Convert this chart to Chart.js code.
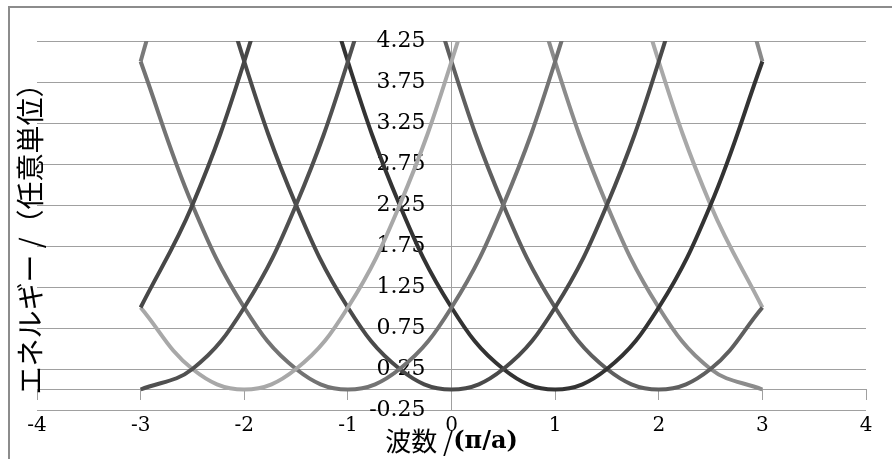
<!DOCTYPE html>
<html lang="ja">
<head>
<meta charset="UTF-8">
<title>自由電子のエネルギー</title>
<script src="https://cdn.jsdelivr.net/npm/chart.js"></script>
<style>
  body { margin: 0; background: #fff; overflow: hidden; }
  .wrap { position: relative; width: 892px; height: 459px; overflow: hidden; }
  .frame { position: absolute; left: 8px; top: 6px; width: 1000px; height: 1000px; border: 2px solid #8c8c8c; }
  canvas { position: absolute; left: 0; top: 0; }
</style>
</head>
<body>
<div class="wrap">
  <div class="frame"></div>
  <canvas id="bandChart" width="892" height="459"></canvas>
</div>
<script>
// 波数 (π/a)
const waveNumbers = [-3, -2.5, -2, -1.5, -1, -0.5, 0, 0.5, 1, 1.5, 2, 2.5, 3];

// エネルギー, one parabola per reciprocal lattice point (-5 ... 5)
const bandM5 = [4, 6.25, 9, 12.25, 16, 20.25, 25, 30.25, 36, 42.25, 49, 56.25, 64];
const bandM4 = [1, 2.25, 4, 6.25, 9, 12.25, 16, 20.25, 25, 30.25, 36, 42.25, 49];
const bandM3 = [0, 0.25, 1, 2.25, 4, 6.25, 9, 12.25, 16, 20.25, 25, 30.25, 36];
const bandM2 = [1, 0.25, 0, 0.25, 1, 2.25, 4, 6.25, 9, 12.25, 16, 20.25, 25];
const bandM1 = [4, 2.25, 1, 0.25, 0, 0.25, 1, 2.25, 4, 6.25, 9, 12.25, 16];
const band0  = [9, 6.25, 4, 2.25, 1, 0.25, 0, 0.25, 1, 2.25, 4, 6.25, 9];
const bandP1 = [16, 12.25, 9, 6.25, 4, 2.25, 1, 0.25, 0, 0.25, 1, 2.25, 4];
const bandP2 = [25, 20.25, 16, 12.25, 9, 6.25, 4, 2.25, 1, 0.25, 0, 0.25, 1];
const bandP3 = [36, 30.25, 25, 20.25, 16, 12.25, 9, 6.25, 4, 2.25, 1, 0.25, 0];
const bandP4 = [49, 42.25, 36, 30.25, 25, 20.25, 16, 12.25, 9, 6.25, 4, 2.25, 1];
const bandP5 = [64, 56.25, 49, 42.25, 36, 30.25, 25, 20.25, 16, 12.25, 9, 6.25, 4];

const yTicks = [-0.25, 0.25, 0.75, 1.25, 1.75, 2.25, 2.75, 3.25, 3.75, 4.25];
const yTitle = 'エネルギー /（任意単位）';
const xTitleMain = '波数 /';
const xTitleUnit = '(π/a)';

const bands = [bandM5, bandM4, bandM3, bandM2, bandM1, band0, bandP1, bandP2, bandP3, bandP4, bandP5];
const bandColors = ['#7a7a7a', '#474747', '#505050', '#a8a8a8', '#737373', '#4a4a4a',
                    '#333333', '#5f5f5f', '#8c8c8c', '#a8a8a8', '#8a8a8a'];

const gridGray = '#a0a0a0';
Chart.defaults.font.family = "'DejaVu Serif', 'Noto Sans CJK JP'";
Chart.defaults.color = '#000';

const datasets = bands.map((vals, i) => ({
    data: waveNumbers.map((k, j) => ({ x: k, y: vals[j] })),
    borderColor: bandColors[i],
    borderWidth: 4,
    pointRadius: 0,
    tension: 0.4,
    fill: false
}));

const setYTicks = (scale) => {
    scale.ticks = yTicks.map(v => ({ value: v }));
};

// axis titles (y rotated on the left, x centred under the plot)
const axisTitles = {
    id: 'axisTitles',
    afterDraw(chart) {
        const ctx = chart.ctx;
        const area = chart.chartArea;
        ctx.save();
        ctx.fillStyle = '#000';
        ctx.textBaseline = 'middle';

        ctx.save();
        ctx.translate(30, 232);
        ctx.rotate(-Math.PI / 2);
        ctx.font = "28px 'Noto Sans CJK JP'";
        ctx.textAlign = 'center';
        ctx.fillText(yTitle, 0, 0);
        ctx.restore();

        const mainFont = "26px 'Noto Sans CJK JP'";
        const unitFont = "bold 24px 'DejaVu Serif'";
        ctx.font = mainFont;
        const w1 = ctx.measureText(xTitleMain).width;
        ctx.font = unitFont;
        const w2 = ctx.measureText(xTitleUnit).width;
        const x0 = (area.left + area.right) / 2 - (w1 + w2) / 2;
        ctx.textAlign = 'left';
        ctx.font = mainFont;
        ctx.fillText(xTitleMain, x0, 441);
        ctx.font = unitFont;
        ctx.fillText(xTitleUnit, x0 + w1, 442);
        ctx.restore();
    }
};

new Chart(document.getElementById('bandChart'), {
    type: 'line',
    data: { datasets },
    options: {
        responsive: false,
        animation: false,
        layout: { padding: { top: 41, right: 26, left: 37, bottom: 17 } },
        elements: { line: { capBezierPoints: false } },
        plugins: {
            legend: { display: false },
            tooltip: { enabled: false }
        },
        scales: {
            x: {
                type: 'linear',
                position: 'bottom',
                min: -4,
                max: 4,
                grid: { display: false, drawTicks: false },
                border: { display: false },
                ticks: { stepSize: 1, padding: 8, font: { size: 20, lineHeight: 0.8 } }
            },
            xZero: {
                axis: 'x',
                type: 'linear',
                position: { y: 0 },
                min: -4,
                max: 4,
                grid: { drawOnChartArea: false, drawTicks: true, tickLength: 10, color: gridGray },
                border: { color: gridGray, width: 1 },
                ticks: { stepSize: 1, display: false }
            },
            y: {
                type: 'linear',
                position: { x: 0 },
                min: -0.25,
                max: 4.25,
                afterBuildTicks: setYTicks,
                grid: { color: gridGray, drawTicks: false },
                border: { color: gridGray, width: 1 },
                ticks: { display: false }
            },
            yLabels: {
                axis: 'y',
                type: 'linear',
                position: { x: -0.25 },
                min: -0.25,
                max: 4.25,
                afterBuildTicks: setYTicks,
                grid: { display: false, drawTicks: false },
                border: { display: false },
                ticks: { font: { size: 22 }, callback: v => v.toFixed(2) }
            }
        }
    },
    plugins: [axisTitles]
});
</script>
</body>
</html>
